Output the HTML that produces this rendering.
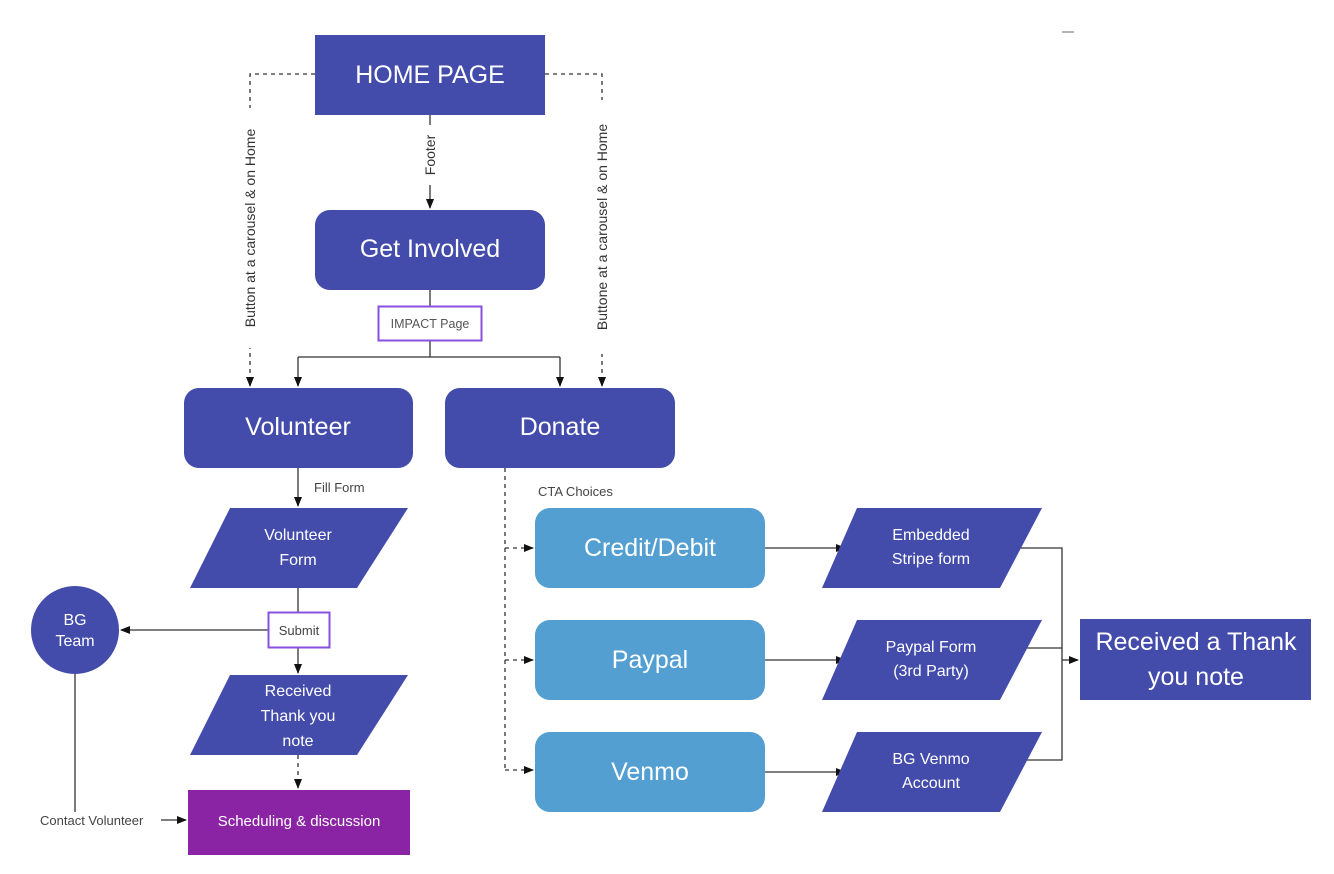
<!DOCTYPE html>
<html><head><meta charset="utf-8"><style>
html,body{margin:0;padding:0;background:#fff;}
svg{display:block;font-family:"Liberation Sans",sans-serif;}
</style></head><body>
<svg width="1334" height="874" viewBox="0 0 1334 874" xmlns="http://www.w3.org/2000/svg">
<defs>
<marker id="a" markerWidth="10" markerHeight="10" refX="9" refY="5" orient="auto" markerUnits="userSpaceOnUse"><path d="M0,1 L10,5 L0,9 Z" fill="#111"/></marker>
</defs>
<g stroke="#333" stroke-width="1.3" fill="none">
<!-- dashed from home -->
<path d="M315,74 H250 V386" stroke-dasharray="4,4" marker-end="url(#a)"/>
<path d="M545,74 H602 V386" stroke-dasharray="4,4" marker-end="url(#a)"/>
<path d="M430,115 V208" marker-end="url(#a)"/>
<path d="M430,290 V306 M430,341 V357 M298,357 H560"/>
<path d="M298,357 V386" marker-end="url(#a)"/>
<path d="M560,357 V386" marker-end="url(#a)"/>
<path d="M298,468 V506" marker-end="url(#a)"/>
<path d="M298,588 V612"/>
<path d="M268,630 H121" marker-end="url(#a)"/>
<path d="M298,648 V673" marker-end="url(#a)"/>
<path d="M298,755 V788" stroke-dasharray="4,4" marker-end="url(#a)"/>
<path d="M75,674 V812"/>
<path d="M161,820 H186" marker-end="url(#a)"/>
<path d="M505,468 V770" stroke-dasharray="4,4"/>
<path d="M505,548 H533" stroke-dasharray="4,4" marker-end="url(#a)"/>
<path d="M505,660 H533" stroke-dasharray="4,4" marker-end="url(#a)"/>
<path d="M505,770 H533" stroke-dasharray="4,4" marker-end="url(#a)"/>
<path d="M765,548 H845" marker-end="url(#a)"/>
<path d="M765,660 H845" marker-end="url(#a)"/>
<path d="M765,772 H845" marker-end="url(#a)"/>
<path d="M1018,548 H1062 V760 H1025 M1027,648 H1062"/>
<path d="M1062,660 H1078" marker-end="url(#a)"/>
</g>
<!-- label backgrounds -->
<rect x="241" y="108" width="18" height="240" fill="#fff"/>
<rect x="593" y="100" width="18" height="254" fill="#fff"/>
<rect x="421" y="125" width="18" height="60" fill="#fff"/>
<g font-size="14" fill="#333">
<text transform="translate(255,228) rotate(-90)" text-anchor="middle">Button at a carousel &amp; on Home</text>
<text transform="translate(607,227) rotate(-90)" text-anchor="middle">Buttone at a carousel &amp; on Home</text>
<text transform="translate(435,155) rotate(-90)" text-anchor="middle">Footer</text>
</g>
<g font-size="13" fill="#444">
<text x="314" y="492">Fill Form</text>
<text x="538" y="496">CTA Choices</text>
<text x="40" y="825">Contact Volunteer</text>
</g>
<!-- nodes -->
<rect x="315" y="35" width="230" height="80" fill="#434BAB"/>
<text x="430" y="83" font-size="25" fill="#fff" text-anchor="middle">HOME PAGE</text>
<rect x="315" y="210" width="230" height="80" rx="15" fill="#434BAB"/>
<text x="430" y="257" font-size="25" fill="#fff" text-anchor="middle">Get Involved</text>
<rect x="378.5" y="306.5" width="103" height="34" fill="#fff" stroke="#8B4FE0" stroke-width="2"/>
<text x="430" y="328" font-size="12.5" fill="#555" text-anchor="middle">IMPACT Page</text>
<rect x="184" y="388" width="229" height="80" rx="15" fill="#434BAB"/>
<text x="298" y="435" font-size="25" fill="#fff" text-anchor="middle">Volunteer</text>
<rect x="445" y="388" width="230" height="80" rx="15" fill="#434BAB"/>
<text x="560" y="435" font-size="25" fill="#fff" text-anchor="middle">Donate</text>
<polygon points="230,508 408,508 357,588 190,588" fill="#434BAB"/>
<text x="298" y="540" font-size="16" fill="#fff" text-anchor="middle">Volunteer</text>
<text x="298" y="565" font-size="16" fill="#fff" text-anchor="middle">Form</text>
<rect x="268.5" y="612.5" width="61" height="35" fill="#fff" stroke="#8B4FE0" stroke-width="2"/>
<text x="299" y="635" font-size="13" fill="#444" text-anchor="middle">Submit</text>
<circle cx="75" cy="630" r="44" fill="#434BAB"/>
<text x="75" y="625" font-size="16" fill="#fff" text-anchor="middle">BG</text>
<text x="75" y="646" font-size="16" fill="#fff" text-anchor="middle">Team</text>
<polygon points="230,675 408,675 357,755 190,755" fill="#434BAB"/>
<text x="298" y="696" font-size="16" fill="#fff" text-anchor="middle">Received</text>
<text x="298" y="721" font-size="16" fill="#fff" text-anchor="middle">Thank you</text>
<text x="298" y="746" font-size="16" fill="#fff" text-anchor="middle">note</text>
<rect x="188" y="790" width="222" height="65" fill="#8B23A5"/>
<text x="299" y="826" font-size="15" fill="#fff" text-anchor="middle">Scheduling &amp; discussion</text>
<g fill="#539FD1">
<rect x="535" y="508" width="230" height="80" rx="15"/>
<rect x="535" y="620" width="230" height="80" rx="15"/>
<rect x="535" y="732" width="230" height="80" rx="15"/>
</g>
<g font-size="25" fill="#fff" text-anchor="middle">
<text x="650" y="556">Credit/Debit</text>
<text x="650" y="668">Paypal</text>
<text x="650" y="780">Venmo</text>
</g>
<g fill="#434BAB">
<polygon points="857,508 1042,508 1000,588 822,588"/>
<polygon points="857,620 1042,620 1000,700 822,700"/>
<polygon points="857,732 1042,732 1000,812 822,812"/>
</g>
<g font-size="16" fill="#fff" text-anchor="middle">
<text x="931" y="540">Embedded</text>
<text x="931" y="564">Stripe form</text>
<text x="931" y="652">Paypal Form</text>
<text x="931" y="676">(3rd Party)</text>
<text x="931" y="764">BG Venmo</text>
<text x="931" y="788">Account</text>
</g>
<rect x="1080" y="619" width="231" height="81" fill="#434BAB"/>
<text x="1196" y="650" font-size="25" fill="#fff" text-anchor="middle">Received a Thank</text>
<text x="1196" y="685" font-size="25" fill="#fff" text-anchor="middle">you note</text>
<line x1="1062" y1="32" x2="1074" y2="32" stroke="#666" stroke-width="1"/>
</svg>
</body></html>
